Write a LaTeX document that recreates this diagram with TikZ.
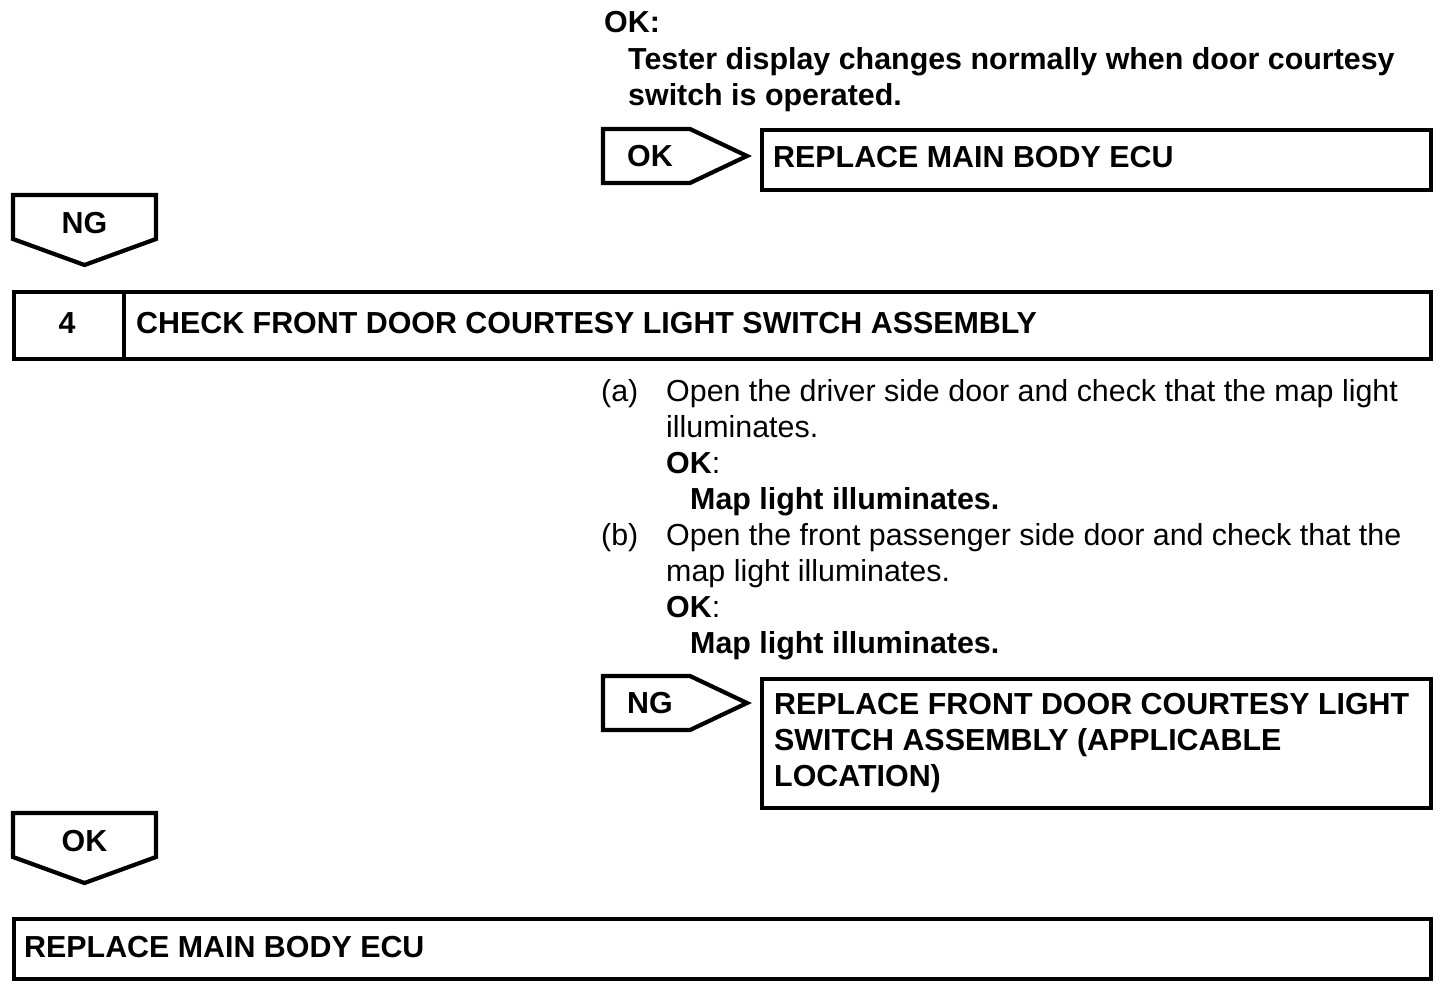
\documentclass[tikz,border=0pt]{standalone}
\usepackage{fontspec}
\setmainfont{Liberation Sans}
\usetikzlibrary{positioning}
\tikzstyle{outline}=[draw, line width=4.2pt]
\tikzstyle{boxstyle}=[rectangle, outline, anchor=north west, inner sep=0pt]
\tikzstyle{txt}=[anchor=base west, inner sep=0pt, font=\fontsize{30.4}{36}\selectfont]
\tikzstyle{btxt}=[txt, font=\fontsize{30.4}{36}\selectfont\bfseries]
% flag pointing right: name, x, y (top left), label
\newcommand{\flagright}[4]{\draw [outline] (#2,#3) -- ++(87,0) -- ++(57,27) -- ++(-57,27) -- ++(-87,0) -- cycle;
  \node [btxt, anchor=center] (#1) at (#2+47,#3+27) {#4};}
% flag pointing down: name, x, y (top left), label
\newcommand{\flagdown}[4]{\draw [outline] (#2,#3) -- ++(143,0) -- ++(0,44) -- ++(-71.5,26) -- ++(-71.5,-26) -- cycle;
  \node [btxt, anchor=base] (#1) at (#2+71.5,#3+38.5) {#4};}

\begin{document}
\begin{tikzpicture}[x=1pt, y=-1pt]
\useasboundingbox (0,0) rectangle (1456,984);
\node [btxt] (okA) at (604,33) {OK:};
\node [btxt] (okA1) at (628,70) {Tester display changes normally when door courtesy};
\node [btxt] (okA2) at (628,106) {switch is operated.};
\flagright{flagOK1}{603}{129}{OK}
\node [boxstyle, minimum width=669pt, minimum height=60pt] (rep1) at (760,128) {};
\node [btxt] (rep1txt) at (773,168) {REPLACE MAIN BODY ECU};
\flagdown{flagNG1}{13}{195}{NG}
% step 4
\node [boxstyle, minimum width=1417pt, minimum height=67pt] (step4) at (12,290) {};
\node [boxstyle, minimum width=110pt, minimum height=67pt] (num4) at (12,290) {};
\node [btxt, anchor=base] (n4) at (67,333) {4};
\node [btxt] (step4txt) at (136,333) {CHECK FRONT DOOR COURTESY LIGHT SWITCH ASSEMBLY};
% (a)
\node [txt] (ia) at (601,401) {(a)};
\node [txt] (ia1) at (666,401) {Open the driver side door and check that the map light};
\node [txt] (ia2) at (666,437) {illuminates.};
\node [txt] (ia3) at (666,473) {\textbf{OK}:};
\node [btxt] (ia4) at (690,509) {Map light illuminates.};
% (b)
\node [txt] (ib) at (601,545) {(b)};
\node [txt] (ib1) at (666,545) {Open the front passenger side door and check that the};
\node [txt] (ib2) at (666,581) {map light illuminates.};
\node [txt] (ib3) at (666,617) {\textbf{OK}:};
\node [btxt] (ib4) at (690,653) {Map light illuminates.};
\flagright{flagNG2}{603}{676}{NG}
\node [boxstyle, minimum width=669pt, minimum height=129pt] (rep2) at (760,677) {};
\node [btxt] (rep2a) at (774,714) {REPLACE FRONT DOOR COURTESY LIGHT};
\node [btxt] (rep2b) at (774,750) {SWITCH ASSEMBLY (APPLICABLE};
\node [btxt] (rep2c) at (774,786) {LOCATION)};
\flagdown{flagOK2}{13}{813}{OK}
\node [boxstyle, minimum width=1417pt, minimum height=60pt] (rep3) at (12,917) {};
\node [btxt] (rep3txt) at (24,957) {REPLACE MAIN BODY ECU};
\end{tikzpicture}
\end{document}
